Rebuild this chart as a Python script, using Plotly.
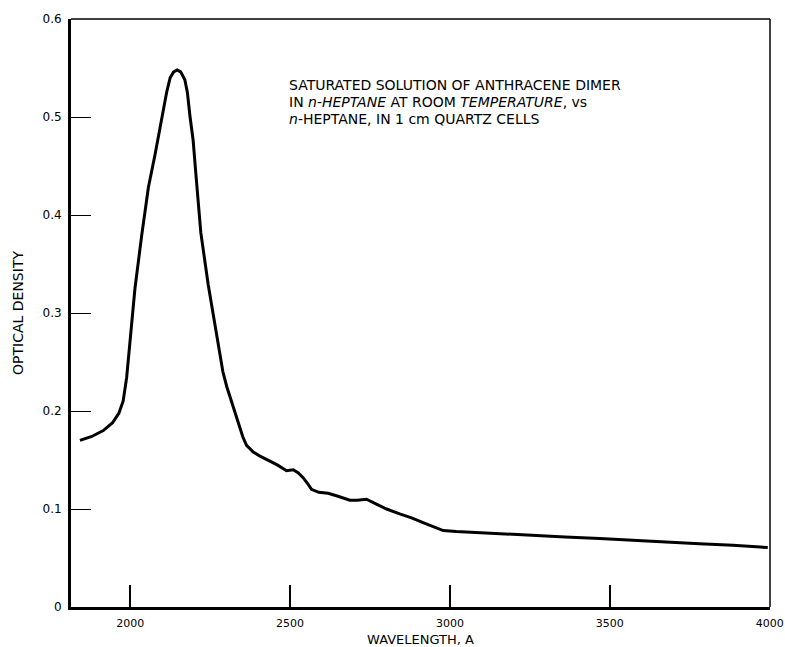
import plotly.graph_objects as go

wavelength = [1843, 1880, 1916, 1945, 1965, 1978, 1989, 2000, 2015, 2036, 2057, 2078, 2093, 2104,
              2114, 2125, 2136, 2147, 2158, 2171, 2179, 2187, 2197, 2206, 2221, 2244, 2271, 2290,
              2302, 2320, 2338, 2352, 2364, 2385, 2406, 2430, 2460, 2489, 2510, 2525, 2541, 2555,
              2567, 2590, 2619, 2650, 2687, 2710, 2739, 2770, 2802, 2843, 2880, 2916, 2950, 2979,
              3020, 3104, 3180, 3260, 3360, 3468, 3570, 3677, 3780, 3885, 3950, 3994]
optical_density = [0.170, 0.174, 0.180, 0.188, 0.198, 0.210, 0.234, 0.270, 0.325, 0.379, 0.428, 0.462,
                   0.488, 0.508, 0.525, 0.540, 0.546, 0.548, 0.546, 0.538, 0.525, 0.501, 0.476, 0.440,
                   0.382, 0.329, 0.278, 0.240, 0.225, 0.207, 0.190, 0.174, 0.165, 0.158, 0.154, 0.150,
                   0.145, 0.139, 0.140, 0.137, 0.132, 0.126, 0.120, 0.117, 0.116, 0.113, 0.109, 0.109,
                   0.110, 0.105, 0.100, 0.095, 0.091, 0.086, 0.082, 0.078, 0.077, 0.0755, 0.074, 0.073,
                   0.0715, 0.070, 0.068, 0.066, 0.0645, 0.063, 0.0615, 0.0606]

x_ticks = [2000, 2500, 3000, 3500, 4000]
x_tick_labels = ["2000", "2500", "3000", "3500", "4000"]
y_ticks = [0, 0.1, 0.2, 0.3, 0.4, 0.5, 0.6]
y_tick_labels = ["0", "0.1", "0.2", "0.3", "0.4", "0.5", "0.6"]

note_lines = ["SATURATED SOLUTION OF ANTHRACENE DIMER",
              "IN <i>n</i>-<i>HEPTANE</i> AT ROOM <i>TEMPERATURE</i>, vs",
              "<i>n</i>-HEPTANE, IN 1 cm QUARTZ CELLS"]

font = "DejaVu Sans"

fig = go.Figure()
fig.add_trace(go.Scatter(x=wavelength, y=optical_density, mode="lines",
                         line=dict(color="black", width=3),
                         showlegend=False, hoverinfo="skip"))

fig.update_layout(
    width=785, height=647,
    margin=dict(l=71, r=15, t=19, b=40),
    paper_bgcolor="white", plot_bgcolor="white",
    font=dict(family=font, color="black", size=12),
    xaxis=dict(range=[1815, 4001], tickvals=x_ticks, ticktext=x_tick_labels,
               ticks="inside", ticklen=22, tickwidth=1.5, tickcolor="black",
               showline=True, linecolor="black", linewidth=3, mirror=False,
               showgrid=False, zeroline=False, ticklabelstandoff=4, automargin=False,
               title=dict(text="WAVELENGTH, A", font=dict(size=13, family=font), standoff=6),
               tickfont=dict(size=11, family=font)),
    yaxis=dict(range=[0, 0.6], tickvals=y_ticks, ticktext=y_tick_labels,
               ticks="inside", ticklen=20, tickwidth=1.2, tickcolor="black",
               showline=True, linecolor="black", linewidth=3, mirror=False,
               showgrid=False, zeroline=False, ticklabelstandoff=4, automargin=False,
               title=dict(text="OPTICAL DENSITY", font=dict(size=14, family=font), standoff=16),
               tickfont=dict(size=12, family=font)),
    shapes=[
        dict(type="line", xref="paper", yref="paper", x0=0, x1=1, y0=1, y1=1,
             line=dict(color="black", width=1.5)),
        dict(type="line", xref="paper", yref="paper", x0=1, x1=1, y0=0, y1=1,
             line=dict(color="black", width=1.5)),
    ],
)

for i, line in enumerate(note_lines):
    fig.add_annotation(xref="paper", yref="paper", x=(287 - 71) / 699, y=1 - (85 + 17 * i - 19) / 588,
                       text=line, showarrow=False, xanchor="left", yanchor="middle",
                       font=dict(size=14, family=font, color="black"))

fig.write_html("out.html")
